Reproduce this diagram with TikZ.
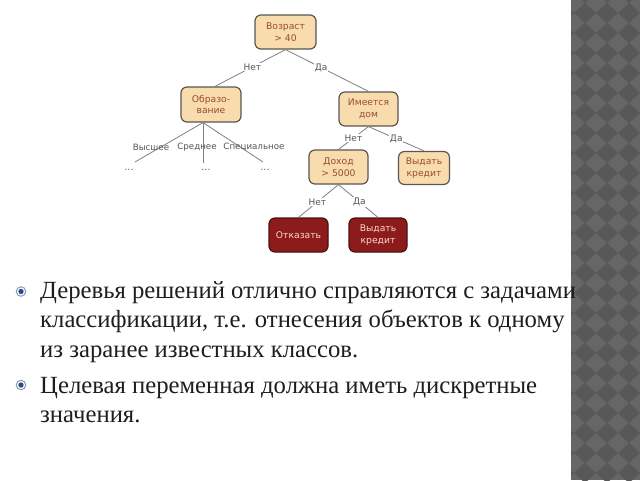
\documentclass[tikz,border=0pt]{standalone}
\usepackage{fontspec}
\setmainfont{Liberation Serif}
\newfontfamily\dejavu{DejaVu Sans}
\definecolor{peach}{HTML}{F8DCAE}
\definecolor{boxborder}{HTML}{5A5550}
\definecolor{boxtext}{HTML}{9A4A35}
\definecolor{darkred}{HTML}{8E1B1B}
\definecolor{darkborder}{HTML}{4A1212}
\definecolor{darktext}{HTML}{F6DACC}
\definecolor{edgegray}{HTML}{808080}
\definecolor{labgray}{HTML}{555555}
\definecolor{stripl}{HTML}{666666}
\definecolor{stripd}{HTML}{585858}
\definecolor{bulring}{HTML}{8A9AB0}
\definecolor{bulcenter}{HTML}{2A4A8A}
\definecolor{bodytext}{HTML}{1E1E1E}
\begin{document}
\begin{tikzpicture}[x=1pt,y=-1pt,
  tbox/.style={draw=boxborder, line width=1.2pt, rounded corners=6pt, fill=peach, text=boxtext,
    font=\dejavu\fontsize{9.2}{11.5}\selectfont, align=center, inner sep=0pt},
  dbox/.style={tbox, fill=darkred, draw=darkborder, text=darktext},
  conn/.style={draw=edgegray, line width=0.8pt},
  elab/.style={font=\dejavu\fontsize{9}{10}\selectfont, text=labgray, fill=white, inner sep=0.6pt},
  blab/.style={font=\dejavu\fontsize{8.7}{10}\selectfont, text=labgray, inner sep=0pt},
  dots/.style={font=\dejavu\fontsize{9.5}{10}\selectfont, text=labgray, inner sep=0pt, anchor=base},
  body/.style={font=\fontsize{24.7}{29}\selectfont, text=bodytext, anchor=base west, inner sep=0pt},
  bullet/.style={circle, draw=bulring, line width=1pt, fill=white, minimum size=9.5pt, inner sep=0pt,
    path picture={\fill[bulcenter] (path picture bounding box.center) circle (2.7pt);}}
]
\useasboundingbox (0,0) rectangle (640,480);
\fill[white] (0,0) rectangle (640,480);

% decorative strip
\begin{scope}
\clip (571,0) rectangle (640,480);
\fill[stripl] (571,0) rectangle (640,480);
\foreach \i in {0,...,4}{
  \foreach \j in {0,...,25}{
    \fill[stripd] ({563+22*\i},{-7+20*\j}) +(-11,0) -- +(0,-10) -- +(11,0) -- +(0,10) -- cycle;
  }
}
\end{scope}

% tree nodes
\node[tbox, minimum width=61pt, minimum height=34pt] (root) at (285.5,32) {Возраст\\> 40};
\node[tbox, minimum width=60pt, minimum height=35pt] (edu) at (211,104.5) {Образо-\\вание};
\node[tbox, minimum width=59pt, minimum height=34pt] (house) at (368.5,109) {Имеется\\дом};
\node[tbox, minimum width=59pt, minimum height=34pt] (income) at (338.5,167) {Доход\\> 5000};
\node[tbox, minimum width=51pt, minimum height=33pt] (give1) at (424,168) {Выдать\\кредит};
\node[dbox, minimum width=59pt, minimum height=34pt] (refuse) at (298.5,235) {Отказать};
\node[dbox, minimum width=58pt, minimum height=34pt] (give2) at (378,235) {Выдать\\кредит};

% connectors
\draw[conn] (root.south) -- node[elab, pos=0.47] {Нет} ([xshift=4pt]edu.north);
\draw[conn] (root.south) -- node[elab, pos=0.43] {Да} (house.north);
\draw[conn] (house.south) -- node[elab, pos=0.5] {Нет} (income.north);
\draw[conn] (house.south) -- node[elab, pos=0.5] {Да} (give1.north);
\draw[conn] (income.south) -- node[elab, pos=0.53] {Нет} (refuse.north);
\draw[conn] (income.south) -- node[elab, pos=0.53] {Да} (give2.north);

% education branches
\coordinate (eb) at ([xshift=-8pt]edu.south);
\coordinate (b1) at (135,162);
\coordinate (b2) at (203,163);
\coordinate (b3) at (263,162);
\draw[conn] (eb) -- (b1);
\draw[conn] (eb) -- (b2);
\draw[conn] (eb) -- (b3);
\node[blab] (l1) at (151,147) {Высшее};
\node[blab] (l2) at (197,147) {Среднее};
\node[blab] (l3) at (254,147) {Специальное};
\node[dots] (d1) at (129,170) {...};
\node[dots] (d2) at (206,170) {...};
\node[dots] (d3) at (265,170) {...};

% body text
\node[bullet] (bu1) at (21,291.5) {};
\node[bullet] (bu2) at (21,385) {};
\node[body] (t1) at (40,298.6) {Деревья решений отлично справляются с задачами};
\node[body] (t2) at (40,327.5) {классификации, т.е. отнесения объектов к одному};
\node[body] (t3) at (40,357) {из заранее известных классов.};
\node[body] (t4) at (40,393) {Целевая переменная должна иметь дискретные};
\node[body] (t5) at (40,422.5) {значения.};
\end{tikzpicture}
\end{document}
